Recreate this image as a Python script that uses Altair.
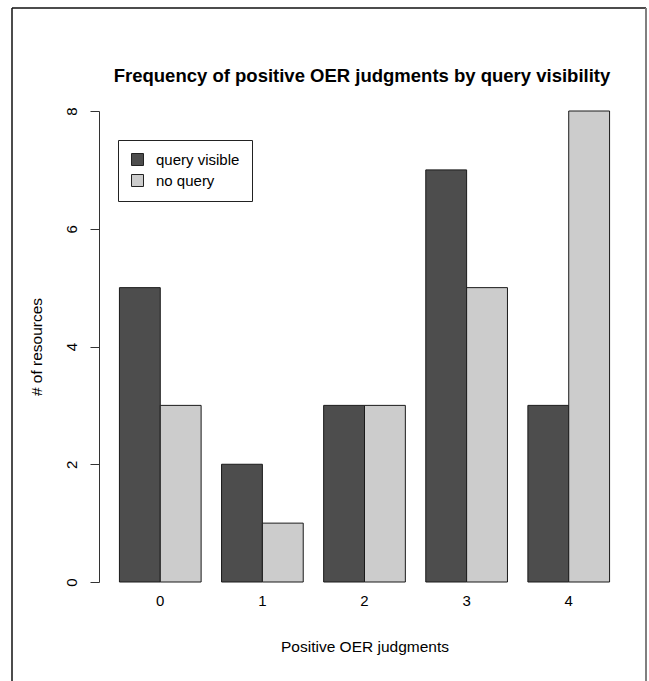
import altair as alt
import pandas as pd

categories = ["0", "1", "2", "3", "4"]
series_names = ["query visible", "no query"]
query_visible = [5, 2, 3, 7, 3]
no_query = [3, 1, 3, 5, 8]
y_ticks = [0, 2, 4, 6, 8]
title_text = "Frequency of positive OER judgments by query visibility"

rows = []
for c, a, b in zip(categories, query_visible, no_query):
    rows.append({"cat": c, "series": series_names[0], "count": a})
    rows.append({"cat": c, "series": series_names[1], "count": b})
df = pd.DataFrame(rows)

FONT = "Liberation Sans"
FS = 15

bars = alt.Chart(df).mark_bar(stroke="#1a1a1a", strokeWidth=1).encode(
    x=alt.X("cat:N", sort=categories,
            scale=alt.Scale(paddingInner=0.2, paddingOuter=0.2),
            axis=alt.Axis(title="Positive OER judgments", labelAngle=0, domain=False,
                          ticks=False, labelPadding=11, titlePadding=31,
                          labelFontSize=FS, titleFontSize=15.5, labelFont=FONT,
                          titleFont=FONT, titleFontWeight="normal",
                          labelColor="black", titleColor="black")),
    xOffset=alt.XOffset("series:N", sort=series_names, scale=alt.Scale(paddingInner=0, paddingOuter=0)),
    y=alt.Y("count:Q", scale=alt.Scale(domain=[0, 8], nice=False),
            axis=alt.Axis(title="# of resources", values=y_ticks, grid=False,
                          tickSize=9, labelAngle=270, labelAlign="center",
                          labelBaseline="bottom", labelPadding=11,
                          titlePadding=20, labelFontSize=FS, titleFontSize=15.5,
                          labelFont=FONT, titleFont=FONT, titleFontWeight="normal",
                          domainColor="#333333", tickColor="#333333",
                          labelColor="black", titleColor="black")),
    color=alt.Color("series:N", sort=series_names,
                    scale=alt.Scale(domain=series_names, range=["#4d4d4d", "#cccccc"]),
                    legend=alt.Legend(title=None, orient="none", legendX=19, legendY=29,
                                      strokeColor="#222222", fillColor="white",
                                      padding=12, symbolType="square", symbolSize=144,
                                      symbolStrokeColor="#222222", symbolStrokeWidth=1,
                                      labelFontSize=FS, labelFont=FONT, labelColor="black",
                                      labelOffset=11, rowPadding=4)),
)

one = pd.DataFrame({"k": [0]})
title = alt.Chart(one).mark_text(text=title_text, fontSize=18.5, fontWeight="bold",
                                 font=FONT, color="black", align="center",
                                 baseline="alphabetic").encode(
    x=alt.value(263), y=alt.value(-29))
left_line = alt.Chart(one).mark_rule(color="#111111", strokeWidth=1.5).encode(
    x=alt.value(-87), y=alt.value(-103), y2=alt.value(600))
top_line = alt.Chart(one).mark_rule(color="#111111", strokeWidth=1.5).encode(
    x=alt.value(-87), x2=alt.value(547), y=alt.value(-103))
right_line = alt.Chart(one).mark_rule(color="#808080", strokeWidth=2).encode(
    x=alt.value(547), y=alt.value(-103), y2=alt.value(600))

chart = alt.layer(bars, title, left_line, top_line, right_line).properties(
    width=531, height=471,
    autosize=alt.AutoSizeParams(type="none"),
    padding={"left": 99, "top": 111, "right": 19, "bottom": 99},
).configure(font=FONT, background="white").configure_view(stroke=None)

chart.save("out.html", embed_options={"renderer": "svg", "actions": False})
